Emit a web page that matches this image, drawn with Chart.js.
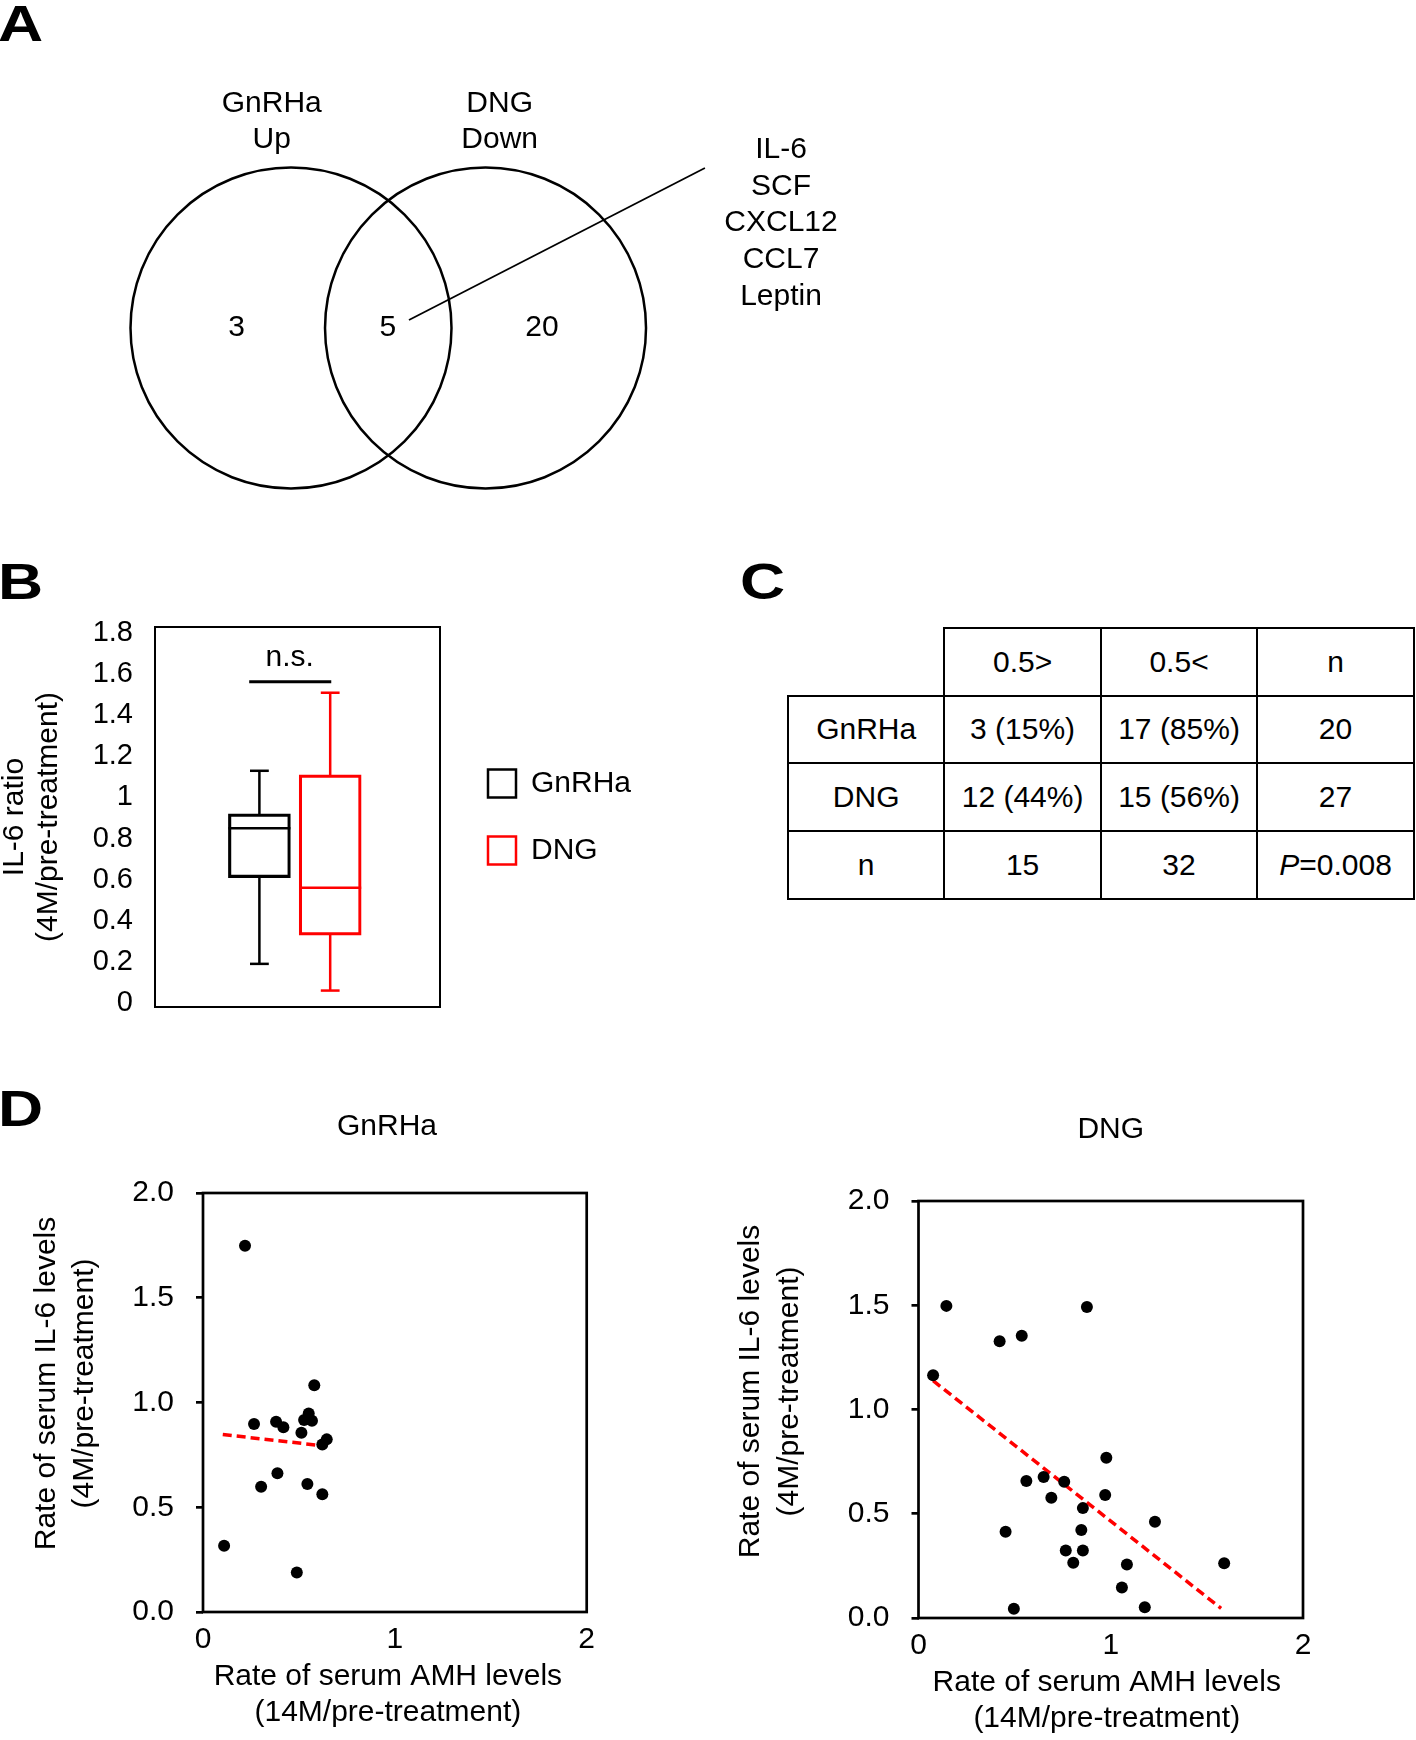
<!DOCTYPE html>
<html>
<head>
<meta charset="utf-8">
<title>IL-6 / AMH figure</title>
<script src="https://cdn.jsdelivr.net/npm/chart.js@4/dist/chart.umd.min.js"></script>
<style>
html, body { margin: 0; padding: 0; background: #fff; }
body { width: 1416px; height: 1740px; position: relative; overflow: hidden;
       font-family: "Liberation Sans", Arial, Helvetica, sans-serif; color: #000; }
canvas { position: absolute; }
.plabel { position: absolute; font-weight: bold; font-size: 50px; line-height: 50px;
          transform-origin: 0 0; transform: scaleX(1.25); white-space: nowrap; }
.cell { position: absolute; box-sizing: border-box; border: 2px solid #000;
        display: flex; align-items: center; justify-content: center; font-size: 30px; white-space: nowrap; }
</style>
</head>
<body>
<div class="plabel" style="left:-2px; top:-1px;">A</div>
<div class="plabel" style="left:-2px; top:557px;">B</div>
<div class="plabel" style="left:740px; top:557px;">C</div>
<div class="plabel" style="left:-2px; top:1084px;">D</div>

<canvas id="chartA" width="900" height="470" style="left:0px; top:60px;"></canvas>
<canvas id="chartB" width="650" height="430" style="left:0px; top:600px;"></canvas>
<div id="tableC"></div>
<canvas id="chartD1" width="774" height="641" style="left:0px; top:1090px;"></canvas>
<canvas id="chartD2" width="716" height="644" style="left:700px; top:1093px;"></canvas>

<script>
// ---------------- DATA ----------------
// Panel A (Venn)
const vennSets = [['GnRHa', 'Up'], ['DNG', 'Down']];
const vennCounts = [3, 5, 20];
const sharedGenes = ['IL-6', 'SCF', 'CXCL12', 'CCL7', 'Leptin'];

// Panel B (box plot of IL-6 ratio)
const boxGroups = ['GnRHa', 'DNG'];
const boxMin    = [0.19, 0.06];
const boxQ1     = [0.61, 0.33];
const boxMedian = [0.85, 0.56];
const boxQ3     = [0.92, 1.11];
const boxMax    = [1.13, 1.51];
const boxTicks = [0, 0.2, 0.4, 0.6, 0.8, 1.0, 1.2, 1.4, 1.6, 1.8];
const boxTickLabels = ['0', '0.2', '0.4', '0.6', '0.8', '1', '1.2', '1.4', '1.6', '1.8'];
const boxSigLabel = 'n.s.';

// Panel C (contingency table)
const tableColHeads = ['0.5>', '0.5<', 'n'];
const tableRowHeads = ['GnRHa', 'DNG', 'n'];
const countBelow = [3, 12];
const countAbove = [17, 15];
const pValueText = '0.008';

// Panel D (scatter plots)
const gnrhaAMH = [0.219, 0.110, 0.266, 0.381, 0.419, 0.580, 0.551, 0.527, 0.568, 0.513, 0.645, 0.622, 0.388, 0.303, 0.544, 0.622, 0.489];
const gnrhaIL6 = [1.748, 0.316, 0.897, 0.908, 0.882, 1.082, 0.948, 0.916, 0.913, 0.856, 0.824, 0.800, 0.662, 0.598, 0.611, 0.562, 0.188];
const gnrhaTrendAMH = [0.103, 0.620];
const gnrhaTrendIL6 = [0.847, 0.794];

const dngAMH = [0.076, 0.145, 0.422, 0.537, 0.876, 0.977, 0.561, 0.651, 0.758, 0.691, 0.971, 0.855, 0.453, 0.847, 1.230, 0.766, 0.855, 0.805, 1.084, 1.058, 1.177, 0.496, 1.590];
const dngIL6 = [1.164, 1.497, 1.327, 1.354, 1.492, 0.769, 0.657, 0.676, 0.654, 0.577, 0.590, 0.527, 0.414, 0.422, 0.462, 0.324, 0.324, 0.265, 0.257, 0.146, 0.052, 0.044, 0.263];
const dngTrendAMH = [0.076, 1.574];
const dngTrendIL6 = [1.138, 0.046];

const scatterYTicks = [0, 0.5, 1.0, 1.5, 2.0];
const scatterYTickLabels = ['0.0', '0.5', '1.0', '1.5', '2.0'];
const scatterXTicks = [0, 1, 2];
const scatterXTickLabels = ['0', '1', '2'];
const scatterXTitle = ['Rate of serum AMH levels', '(14M/pre-treatment)'];
const scatterYTitle = ['Rate of serum IL-6 levels', '(4M/pre-treatment)'];

// ---------------- STYLE / LAYOUT ----------------
const FONT = '"Liberation Sans", Arial, Helvetica, sans-serif';
Chart.defaults.font.family = FONT;
Chart.defaults.font.size = 30;
Chart.defaults.color = '#000';
const RED = '#ff0000';

function makeFrame(width) {
  return {
    id: 'frame',
    afterDatasetsDraw(chart) {
      const a = chart.chartArea, ctx = chart.ctx;
      ctx.save();
      ctx.strokeStyle = '#000';
      ctx.lineWidth = width;
      ctx.strokeRect(a.left, a.top, a.right - a.left, a.bottom - a.top);
      ctx.restore();
    }
  };
}
function makeText(builder) {
  return {
    id: 'textMarks',
    afterDraw(chart) {
      const ctx = chart.ctx;
      builder(chart).forEach(it => {
        ctx.save();
        ctx.font = (it.style || '') + ' ' + (it.size || 30) + 'px ' + FONT;
        ctx.fillStyle = '#000';
        ctx.textAlign = 'center';
        ctx.textBaseline = 'middle';
        ctx.translate(it.px, it.py);
        if (it.rotate) ctx.rotate(it.rotate);
        const lines = Array.isArray(it.text) ? it.text : [it.text];
        lines.forEach((t, k) => ctx.fillText(t, 0, k * (it.lineHeight || 36)));
        ctx.restore();
      });
    }
  };
}

// ---------------- PANEL A : Venn ----------------
const VL = { unit: 160.5, originX: 291, originY: 268, w: 900, h: 470,
  centerX: [0, 1.212], centerY: [0, 0],
  countX: [-0.339, 0.603, 1.564], countY: 0,
  setX: [-0.12, 1.30], setY: [1.396, 1.171],
  geneX: 3.053, geneY0: 1.109, geneDy: 0.228,
  leaderX: [0.735, 2.579], leaderY: [0.050, 0.997] };

new Chart(document.getElementById('chartA'), {
  type: 'scatter',
  data: { datasets: [
    { type: 'scatter', label: 'sets',
      data: VL.centerX.map((x, i) => ({ x, y: VL.centerY[i] })),
      pointRadius: c => c.chart.scales.x.getPixelForValue(1) - c.chart.scales.x.getPixelForValue(0),
      pointHoverRadius: c => c.chart.scales.x.getPixelForValue(1) - c.chart.scales.x.getPixelForValue(0),
      pointBackgroundColor: 'rgba(0,0,0,0)', pointBorderColor: '#000', pointBorderWidth: 2.5 },
    { type: 'line', label: 'leader',
      data: VL.leaderX.map((x, i) => ({ x, y: VL.leaderY[i] })),
      borderColor: '#000', borderWidth: 1.8, pointRadius: 0 }
  ]},
  options: {
    responsive: false, animation: false, events: [],
    layout: { padding: 0, autoPadding: false },
    plugins: { legend: { display: false }, tooltip: { enabled: false } },
    scales: {
      x: { type: 'linear', display: false, min: -VL.originX / VL.unit, max: (VL.w - VL.originX) / VL.unit },
      y: { type: 'linear', display: false, min: (VL.originY - VL.h) / VL.unit, max: VL.originY / VL.unit }
    }
  },
  plugins: [makeText(chart => {
    const sx = chart.scales.x, sy = chart.scales.y, items = [];
    vennCounts.forEach((c, i) => items.push({ text: String(c), px: sx.getPixelForValue(VL.countX[i]), py: sy.getPixelForValue(VL.countY) }));
    vennSets.forEach((lines, i) => lines.forEach((t, k) => items.push({ text: t, px: sx.getPixelForValue(VL.setX[i]), py: sy.getPixelForValue(VL.setY[k]) })));
    sharedGenes.forEach((g, k) => items.push({ text: g, px: sx.getPixelForValue(VL.geneX), py: sy.getPixelForValue(VL.geneY0 - k * VL.geneDy) }));
    return items;
  })]
});

// ---------------- PANEL B : box plot ----------------
const BL = { w: 650, h: 430, left: 155, right: 440, top: 27, bottom: 407,
  xMin: -1.4746, xMax: 2.551, yMin: -0.02, yMax: 1.83,
  boxPx: 62, capR: 9.4, medR: 31, line: 2.5, labelGap: 22,
  sigX: [-0.144, 1.015], sigY: 1.563, sigTextX: 0.427, sigTextY: 1.678,
  legendGap: 11, legendW: 186 };
const boxColors = ['#000000', RED];
const bDatasets = [];
boxGroups.forEach((g, i) => {
  bDatasets.push({ type: 'bar', label: g, data: [{ x: i, y: [boxQ1[i], boxQ3[i]] }],
    borderColor: boxColors[i], backgroundColor: 'rgba(0,0,0,0)', borderWidth: BL.line,
    borderSkipped: false, grouped: false, barThickness: BL.boxPx });
  bDatasets.push({ type: 'line', label: g + ' whiskers',
    data: [{ x: i, y: boxMax[i] }, { x: i, y: boxQ3[i] }, { x: i, y: null }, { x: i, y: boxQ1[i] }, { x: i, y: boxMin[i] }],
    borderColor: boxColors[i], borderWidth: BL.line, spanGaps: false,
    pointStyle: 'line', pointRadius: [BL.capR, 0, 0, 0, BL.capR], pointHoverRadius: [BL.capR, 0, 0, 0, BL.capR],
    pointBorderColor: boxColors[i], pointBorderWidth: BL.line });
  bDatasets.push({ type: 'line', label: g + ' median', data: [{ x: i, y: boxMedian[i] }], showLine: false,
    pointStyle: 'line', pointRadius: BL.medR, pointHoverRadius: BL.medR,
    pointBorderColor: boxColors[i], pointBorderWidth: BL.line });
});
bDatasets.push({ type: 'line', label: 'significance', data: BL.sigX.map(x => ({ x, y: BL.sigY })),
  borderColor: '#000', borderWidth: 3, pointRadius: 0 });

new Chart(document.getElementById('chartB'), {
  type: 'bar',
  data: { datasets: bDatasets },
  options: {
    responsive: false, animation: false, events: [],
    layout: { autoPadding: false,
      padding: { left: 0, top: BL.top, right: BL.w - BL.right - BL.legendGap - BL.legendW, bottom: BL.h - BL.bottom } },
    plugins: {
      tooltip: { enabled: false },
      legend: { display: true, position: 'right', align: 'center', maxWidth: BL.legendW,
        labels: { boxWidth: 28, boxHeight: 28, padding: 37, color: '#000', font: { size: 30 },
          filter: (item, data) => data.datasets[item.datasetIndex].type === 'bar' } }
    },
    scales: {
      x: { type: 'linear', display: false, min: BL.xMin, max: BL.xMax, offset: false },
      y: { type: 'linear', position: 'left', min: BL.yMin, max: BL.yMax,
        afterBuildTicks: s => { s.ticks = boxTicks.map(v => ({ value: v })); },
        afterFit: s => { s.width = BL.left; },
        ticks: { callback: (v, i) => boxTickLabels[i], font: { size: 29 }, color: '#000', padding: 0, autoSkip: false },
        // no visible tick marks in the original: a transparent tick of labelGap length spaces the labels
        grid: { display: true, drawOnChartArea: false, drawTicks: true, tickLength: BL.labelGap, color: 'rgba(0,0,0,0)' },
        border: { display: false },
        title: { display: true, text: ['IL-6 ratio', '(4M/pre-treatment)'], color: '#000',
          font: { size: 30, lineHeight: 34 / 30 }, padding: { top: -2, bottom: 0 } } },
      yR: { type: 'linear', position: 'right', display: true,
        afterFit: s => { s.width = BL.legendGap; },
        ticks: { display: false }, grid: { display: false, drawTicks: false }, border: { display: false } }
    }
  },
  plugins: [makeFrame(2), makeText(chart => [{
    text: boxSigLabel, px: chart.scales.x.getPixelForValue(BL.sigTextX), py: chart.scales.y.getPixelForValue(BL.sigTextY), size: 30 }])]
});

// ---------------- PANEL C : table ----------------
const CL = { xs: [788, 944.4, 1100.8, 1257.3, 1413.8], ys: [628.3, 695.7, 763.3, 831, 899.3] };
(function buildTable() {
  const totals = countBelow.map((b, i) => b + countAbove[i]);
  const pct = (a, t) => Math.round(100 * a / t) + '%';
  const sumB = countBelow.reduce((a, b) => a + b, 0), sumA = countAbove.reduce((a, b) => a + b, 0);
  const grid = [
    ['', ...tableColHeads],
    [tableRowHeads[0], `${countBelow[0]} (${pct(countBelow[0], totals[0])})`, `${countAbove[0]} (${pct(countAbove[0], totals[0])})`, String(totals[0])],
    [tableRowHeads[1], `${countBelow[1]} (${pct(countBelow[1], totals[1])})`, `${countAbove[1]} (${pct(countAbove[1], totals[1])})`, String(totals[1])],
    [tableRowHeads[2], String(sumB), String(sumA), '<i>P</i>=' + pValueText]
  ];
  const host = document.getElementById('tableC');
  grid.forEach((row, r) => row.forEach((txt, c) => {
    if (r === 0 && c === 0) return;
    const d = document.createElement('div');
    d.className = 'cell';
    d.style.left = (CL.xs[c] - 1) + 'px';
    d.style.top = (CL.ys[r] - 1) + 'px';
    d.style.width = (CL.xs[c + 1] - CL.xs[c] + 2) + 'px';
    d.style.height = (CL.ys[r + 1] - CL.ys[r] + 2) + 'px';
    if (txt.indexOf('<i>') >= 0) d.innerHTML = txt; else d.textContent = txt;
    host.appendChild(d);
  }));
})();

// ---------------- PANEL D : scatter plots ----------------
function scatterPanel(id, L, title, xs, ys, tx, ty) {
  return new Chart(document.getElementById(id), {
    type: 'scatter',
    data: { datasets: [
      { type: 'scatter', label: title, data: xs.map((x, i) => ({ x, y: ys[i] })),
        pointRadius: 6, pointHoverRadius: 6, pointBackgroundColor: '#000', pointBorderWidth: 0 },
      { type: 'line', label: title + ' trend', data: tx.map((x, i) => ({ x, y: ty[i] })),
        borderColor: RED, borderWidth: 3.5, borderDash: [9, 5], pointRadius: 0, fill: false }
    ]},
    options: {
      responsive: false, animation: false, events: [],
      layout: { padding: 0, autoPadding: false },
      plugins: {
        legend: { display: false }, tooltip: { enabled: false },
        title: { display: true, text: title, color: '#000', fullSize: L.titleFull,
          font: { size: 30, weight: 'normal', lineHeight: 1.2 }, padding: L.titlePad }
      },
      scales: {
        x: { type: 'linear', position: 'bottom', min: 0, max: 2,
          afterBuildTicks: s => { s.ticks = scatterXTicks.map(v => ({ value: v })); },
          afterFit: s => { s.height = L.xAxisH; },
          ticks: { callback: (v, i) => scatterXTickLabels[i], padding: 10, font: { size: 30 }, color: '#000', autoSkip: false, maxRotation: 0 },
          grid: { display: false, drawTicks: false }, border: { display: false },
          title: { display: false } },
        y: { type: 'linear', position: 'left', min: 0, max: 2,
          afterBuildTicks: s => { s.ticks = scatterYTicks.map(v => ({ value: v })); },
          afterFit: s => { s.width = L.yAxisW; },
          ticks: { callback: (v, i) => scatterYTickLabels[i], padding: 22, font: { size: 30 }, color: '#000', autoSkip: false },
          grid: { display: true, drawOnChartArea: false, drawTicks: true, tickLength: 7, color: '#000', lineWidth: 2.7 },
          border: { display: false } },
        yR: { type: 'linear', position: 'right', display: true,
          afterFit: s => { s.width = L.rightW; },
          ticks: { display: false }, grid: { display: false, drawTicks: false }, border: { display: false } }
      }
    },
    plugins: [makeFrame(2.7), makeText(chart => {
      const a = chart.chartArea;
      return [
        { text: scatterYTitle, rotate: -Math.PI / 2, lineHeight: L.yTitleLH,
          px: a.left + L.yTitleDx, py: (a.top + a.bottom) / 2 + L.yTitleDy },
        { text: scatterXTitle, lineHeight: 36,
          px: (a.left + a.right) / 2 + L.xTitleDx, py: a.bottom + L.xTitleDy }
      ];
    })]
  });
}

scatterPanel('chartD1',
  { yAxisW: 203, rightW: 187.3, xAxisH: 119, titleFull: true, titlePad: { top: 19, bottom: 48 },
    yTitleDx: -156, yTitleDy: -19, yTitleLH: 38, xTitleDx: -7, xTitleDy: 65 },
  'GnRHa', gnrhaAMH, gnrhaIL6, gnrhaTrendAMH, gnrhaTrendIL6);

scatterPanel('chartD2',
  { yAxisW: 218.5, rightW: 113, xAxisH: 119, titleFull: false, titlePad: { top: 19, bottom: 53 },
    yTitleDx: -167.5, yTitleDy: -18, yTitleLH: 39, xTitleDx: -4, xTitleDy: 65 },
  'DNG', dngAMH, dngIL6, dngTrendAMH, dngTrendIL6);
</script>
</body>
</html>
